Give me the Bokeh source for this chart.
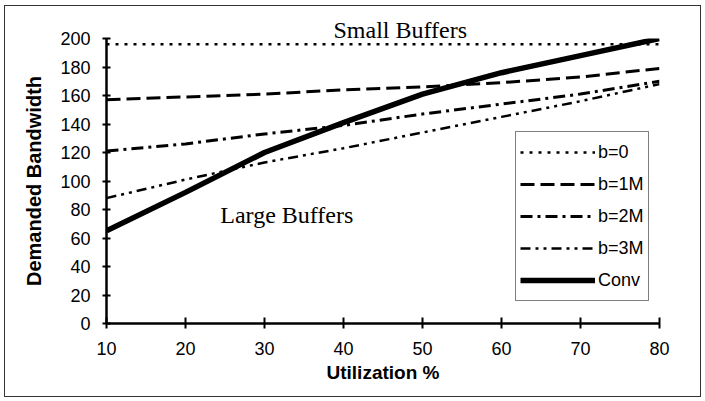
from bokeh.plotting import figure
from bokeh.models import Range1d, FixedTicker, Legend, LegendItem, Label, Title
from bokeh.embed import file_html
from bokeh.resources import INLINE

# ---- data ----
utilization = [10, 20, 30, 40, 50, 60, 70, 80]
b0 = [196, 196, 196, 196, 196, 196, 196, 196]
b1M = [157, 159, 161, 164, 166, 169, 173, 179]
b2M = [121, 126, 133, 139, 147, 154, 161, 170]
b3M = [88, 101, 113, 123, 134, 145, 156, 168]
conv = [65, 92, 120, 141, 161, 176, 188, 200]
series_names = ["b=0", "b=1M", "b=2M", "b=3M", "Conv"]
x_ticks = [10, 20, 30, 40, 50, 60, 70, 80]
y_ticks = [0, 20, 40, 60, 80, 100, 120, 140, 160, 180, 200]

p = figure(width=697, height=392, output_backend="svg", toolbar_location=None,
           x_range=Range1d(10, 80), y_range=Range1d(0, 200),
           min_border_left=101, min_border_right=43, min_border_top=32, min_border_bottom=75,
           styles={"border": "1px solid #333", "margin-left": "4px", "margin-top": "5px"})
p.outline_line_color = None
p.xgrid.visible = False
p.ygrid.visible = False
p.background_fill_color = "white"
p.border_fill_color = "white"

for ax in (p.xaxis[0], p.yaxis[0]):
    ax.axis_line_color = "black"
    ax.axis_line_width = 2.5
    ax.major_tick_line_color = "black"
    ax.major_tick_line_width = 2
    ax.minor_tick_line_color = None
    ax.major_label_text_font = "Liberation Sans"
    ax.major_label_text_font_size = "18px"
    ax.major_label_text_color = "black"
    ax.axis_label_text_font = "Liberation Sans"
    ax.axis_label_text_font_style = "bold"
    ax.axis_label_text_color = "black"

p.xaxis.ticker = FixedTicker(ticks=x_ticks)
p.yaxis.ticker = FixedTicker(ticks=y_ticks)
p.xaxis.major_tick_in = 6
p.xaxis.major_tick_out = 5
p.yaxis.major_tick_in = 4
p.yaxis.major_tick_out = 4
p.xaxis.major_label_standoff = 13
p.yaxis.major_label_standoff = 12
p.xaxis.axis_label = "Utilization %"
p.yaxis.axis_label = "Demanded Bandwidth"
p.xaxis.axis_label_text_font_size = "19px"
p.yaxis.axis_label_text_font_size = "20px"
p.xaxis.axis_label_standoff = 4
p.yaxis.axis_label_standoff = 12

r0 = p.line(utilization, b0, line_color="black", line_width=2.5, line_dash="3 6")
r1 = p.line(utilization, b1M, line_color="black", line_width=3, line_dash="14 6")
r2 = p.line(utilization, b2M, line_color="black", line_width=3, line_dash="12 5 3 5")
r3 = p.line(utilization, b3M, line_color="black", line_width=2.5, line_dash="10 5 3 5 3 5")
r4 = p.line(utilization, conv, line_color="black", line_width=5.5)

legend = Legend(items=[LegendItem(label=n, renderers=[r]) for n, r in
                       zip(series_names, [r0, r1, r2, r3, r4])],
                location=(409, 22), orientation="vertical",
                glyph_width=75, glyph_height=32, label_height=32, label_width=0,
                label_standoff=3, spacing=0, padding=4, margin=0,
                label_text_font="Liberation Sans", label_text_font_size="18px",
                label_text_color="black",
                border_line_color="black", border_line_width=1,
                background_fill_color="white", background_fill_alpha=1)
p.add_layout(legend, "center")

p.add_layout(Title(text="Small Buffers", align="left", offset=227, standoff=-9,
                   text_font="Liberation Serif", text_font_size="24px",
                   text_font_style="normal", text_color="black"), "above")
p.add_layout(Label(x=24.4, y=76, text="Large Buffers", text_font="Liberation Serif",
                   text_font_size="24px", text_color="black", text_baseline="alphabetic"))

open("out.html", "w").write(file_html(p, INLINE))
